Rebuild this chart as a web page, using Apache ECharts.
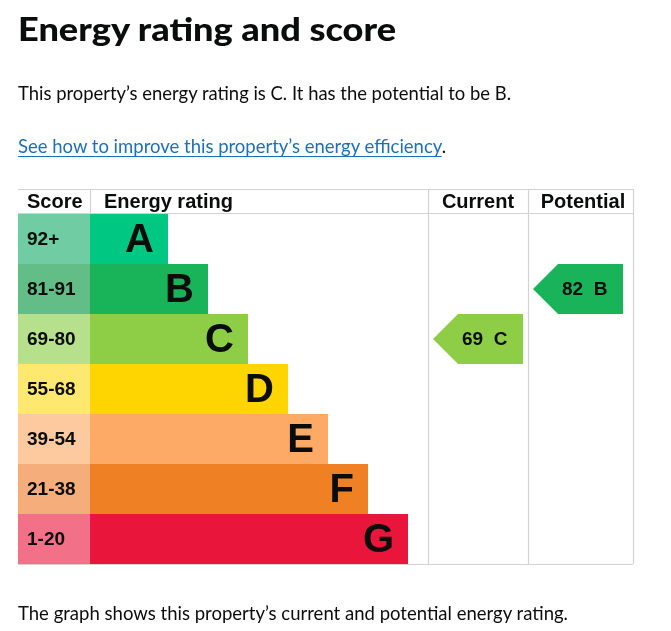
<!DOCTYPE html>
<html><head><meta charset="utf-8">
<script src="https://cdn.jsdelivr.net/npm/echarts@6/dist/echarts.min.js"></script>
<style>
html,body{margin:0;padding:0;background:#fff;}
#page{position:relative;width:671px;height:631px;overflow:hidden;background:#fff;}
#chart{position:absolute;left:0;top:0;width:671px;height:631px;}
.txt{position:absolute;left:18px;white-space:nowrap;font-family:Lato,'Noto Sans',sans-serif;color:#0b0c0c;transform-origin:0 0;display:inline-block;}
#title{font-weight:900;font-size:32px;line-height:38px;top:10px;}
#intro{font-size:19px;line-height:23px;top:81px;}
#more{font-size:19px;line-height:23px;top:134px;}
#more a{color:#1d70b8;text-decoration:underline;text-decoration-thickness:1px;text-underline-offset:3px;}
#foot{font-size:19px;line-height:23px;top:601px;}
</style></head>
<body><div id="page"><div id="chart"></div>
<div class="txt" id="title">Energy rating and score</div>
<div class="txt" id="intro">This property’s energy rating is C. It has the potential to be B.</div>
<div class="txt" id="more"><a>See how to improve this property’s energy efficiency</a>.</div>
<div class="txt" id="foot">The graph shows this property’s current and potential energy rating.</div>
</div>
<script>
// ---- data ----
const bands = ['A','B','C','D','E','F','G'];
const scoreRanges = ['92+','81-91','69-80','55-68','39-54','21-38','1-20'];
const barLengths = [78,118,158,198,238,278,318];
const barColors = ['#00c781','#19b459','#8dce46','#ffd500','#fcaa65','#ef8023','#e9153b'];
const scoreColors = ['#6fcca3','#62bd86','#b6e08c','#ffe870','#fdcaa0','#f6ad7c','#f37089'];
const ratingColumns = ['Current','Potential'];
const ratingScores = [69,82];
const ratingBands = ['C','B'];

// ---- layout ----
const TL = 18, TR = 633, HT = 189, HB = 213, BB = 564;
const SCORE_W = 72;
const COL_START = {Current: 410, Potential: 510};
const X_MAX = TR - TL;
const LINE = '#d2d2d2';
const FONT = '"Liberation Sans", Arial, sans-serif';
const INK = '#0b0c0c';

function fit(id, w){
  const el = document.getElementById(id);
  const r = el.getBoundingClientRect().width;
  el.style.transform = 'scaleX(' + (w / r) + ')';
}
fit('title', 378); fit('intro', 493); fit('more', 428); fit('foot', 550);

const chart = echarts.init(document.getElementById('chart'), null, {renderer:'canvas'});

function hline(x1, x2, y){ return {type:'line', z:1, shape:{x1:x1, y1:y, x2:x2, y2:y}, style:{stroke:LINE, lineWidth:1.2}}; }
function vline(x, y1, y2){ return {type:'line', z:1, shape:{x1:x, y1:y1, x2:x, y2:y2}, style:{stroke:LINE, lineWidth:1.2}}; }
function htext(t, x, align){ return {type:'text', z:5, x:x, y:(HT+HB)/2+1, style:{text:t, font:'bold 20px ' + FONT, fill:INK, align:align, verticalAlign:'middle'}}; }

const option = {
  animation:false,
  backgroundColor:'transparent',
  grid:{left:TL, top:HB+1, width:X_MAX, height:BB-HB-1},
  xAxis:{type:'value', min:0, max:X_MAX, show:false},
  yAxis:{type:'category', data:bands, inverse:true, show:false},
  graphic:[
    hline(TL, TR, HT+0.5), hline(TL, TR, HB+0.5), hline(TL, TR, BB+0.5),
    vline(90.5, HT, HB), vline(428.5, HT, BB), vline(528.5, HT, BB), vline(TR+0.5, HT, BB),
    htext('Score', 27, 'left'), htext('Energy rating', 104, 'left'),
    htext(ratingColumns[0], 478, 'center'), htext(ratingColumns[1], 583, 'center')
  ],
  series:[
    {
      type:'custom', name:'Energy rating', z:3,
      encode:{x:0, y:1},
      data: bands.map((b,i)=>[barLengths[i], b]),
      renderItem:function(params, api){
        const i = params.dataIndex;
        const cat = api.value(1);
        const len = api.value(0);
        const p0 = api.coord([0, cat]);
        const p1 = api.coord([SCORE_W, cat]);
        const p2 = api.coord([SCORE_W + len, cat]);
        const h = api.size([0,1])[1];
        const top = p0[1] - h/2;
        return {type:'group', children:[
          {type:'rect', shape:{x:p0[0], y:top, width:p1[0]-p0[0], height:h}, style:{fill:scoreColors[i]}},
          {type:'rect', shape:{x:p1[0], y:top, width:p2[0]-p1[0], height:h}, style:{fill:barColors[i]}},
          {type:'text', x:p0[0]+9, y:p0[1]+1, style:{text:scoreRanges[i], font:'bold 19px ' + FONT, fill:INK, align:'left', verticalAlign:'middle'}},
          {type:'text', x:p2[0]-14, y:p0[1]+2, style:{text:bands[i], font:'bold 40px ' + FONT, fill:INK, align:'right', verticalAlign:'middle'}}
        ]};
      }
    },
    {
      type:'custom', name:'Rating', z:4,
      encode:{y:1},
      data: ratingScores.map((s,k)=>[s, ratingBands[k]]),
      renderItem:function(params, api){
        const k = params.dataIndex;
        const score = api.value(0);
        const cat = api.value(1);
        const band = ratingBands[k];
        const c = api.coord([COL_START[ratingColumns[k]], cat]);
        const h = api.size([0,1])[1];
        const top = c[1] - h/2, bot = c[1] + h/2;
        const tip = c[0] + 5;
        const pts = [[tip, c[1]], [tip+25, top], [tip+90, top], [tip+90, bot], [tip+25, bot]];
        return {type:'group', children:[
          {type:'polygon', shape:{points:pts}, style:{fill:barColors[bands.indexOf(band)]}},
          {type:'text', x:tip+29, y:c[1]+1, style:{text:score + '  ' + band, font:'bold 19px ' + FONT, fill:INK, align:'left', verticalAlign:'middle'}}
        ]};
      }
    }
  ]
};
chart.setOption(option);
</script>
</body></html>
